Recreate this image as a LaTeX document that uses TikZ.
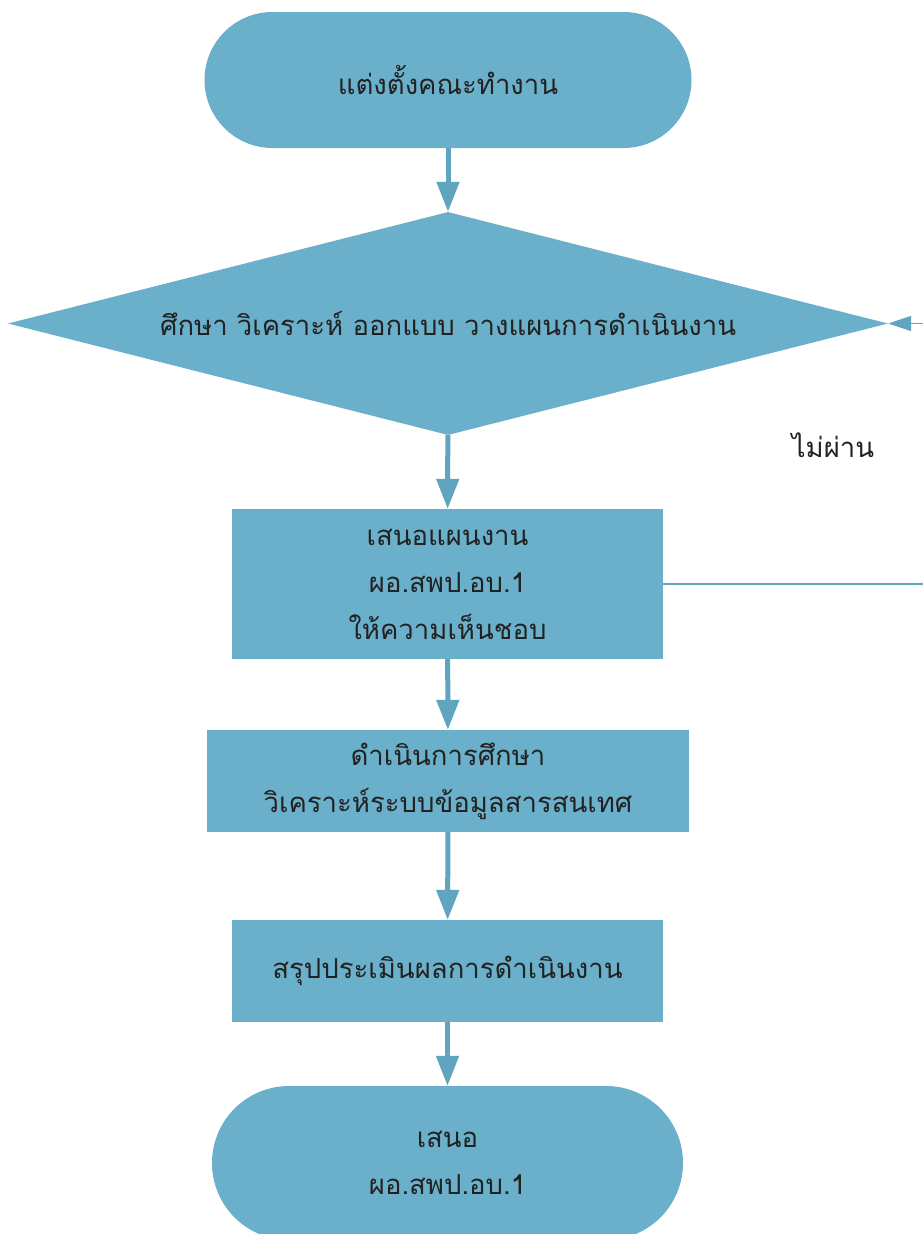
\documentclass[tikz,border=0pt]{standalone}
\usepackage{fontspec}
\newfontfamily\thaifont[Script=Thai]{Loma}
\usetikzlibrary{shapes.geometric, arrows.meta}
\definecolor{boxblue}{HTML}{6AB0CA}
\definecolor{arrowblue}{HTML}{5FA5C0}
\definecolor{inkgray}{HTML}{222222}

\begin{document}
\begin{tikzpicture}[x=1pt, y=-1pt,
    every node/.append style={font=\thaifont\fontsize{27.5}{47}\selectfont, text=inkgray, align=center},
    terminal/.style={rectangle, fill=boxblue, inner sep=0pt},
    process/.style={rectangle, fill=boxblue, inner sep=0pt},
    decision/.style={diamond, fill=boxblue, inner sep=0pt, aspect=3.95},
    flow/.style={draw=arrowblue, line width=5pt, -{Triangle[width=22pt, length=30pt]}},
    backflow/.style={draw=arrowblue, line width=1.6pt, -{Triangle[width=15pt, length=23pt]}}]

    \path[use as bounding box, clip] (0,0) rectangle (923,1234);
    \fill[white] (0,0) rectangle (923,1234);

    \node[terminal, minimum width=487pt, minimum height=136pt, rounded corners=68pt] (team) at (448, 80) {แต่งตั้งคณะทำงาน};
    \node[decision, minimum width=880pt, minimum height=223pt] (study) at (448, 323.5) {ศึกษา วิเคราะห์ ออกแบบ วางแผนการดำเนินงาน};
    \node[process, minimum width=431pt, minimum height=150pt] (propose) at (447.5, 584) {เสนอแผนงาน\\ ผอ.สพป.อบ.1\\ให้ความเห็นชอบ};
    \node[process, minimum width=482pt, minimum height=102pt] (analyse) at (448, 781) {ดำเนินการศึกษา\\วิเคราะห์ระบบข้อมูลสารสนเทศ};
    \node[process, minimum width=431pt, minimum height=102pt] (summary) at (447.5, 971) {สรุปประเมินผลการดำเนินงาน};
    \node[terminal, minimum width=471pt, minimum height=154pt, rounded corners=77pt] (report) at (447.5, 1163) {เสนอ\\ผอ.สพป.อบ.1};

    \node (fail) at (833, 445) {ไม่ผ่าน};
    \coordinate (turn) at (926, 584);

    \draw[flow] (team) -- (study);
    \draw[flow] (study) -- (propose);
    \draw[flow] (propose) -- (analyse);
    \draw[flow] (analyse) -- (summary);
    \draw[flow] (summary) -- (report);
    \draw[backflow] (propose.east) -- (turn) |- (study.east);

\end{tikzpicture}
\end{document}
